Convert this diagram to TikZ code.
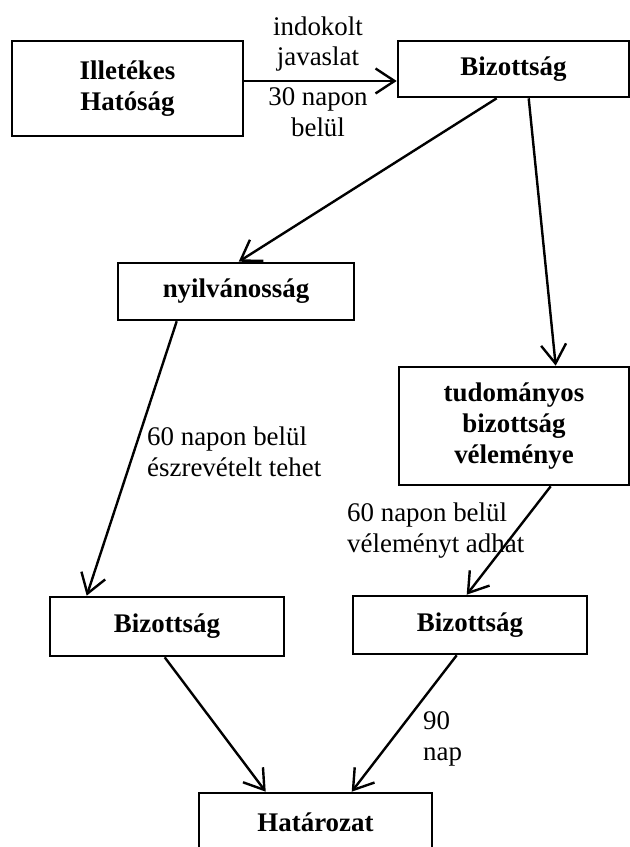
\documentclass[tikz,border=0pt]{standalone}
\usepackage{fontspec}
\setmainfont{Liberation Serif}
\usetikzlibrary{arrows.meta}
\begin{document}
\begin{tikzpicture}[x=1bp,y=1bp,
  box/.style={draw,line width=2.6bp,rectangle,inner sep=0pt,align=center,
    font=\fontsize{27}{31}\selectfont\bfseries},
  lbl/.style={inner sep=0pt,font=\fontsize{27}{31}\selectfont},
  flow/.style={line width=2.4bp,-{Straight Barb[length=19bp,width=25bp,line width=2.4bp]}}]
\useasboundingbox (0,0) rectangle (630,847);
% boxes
\node[box,minimum width=231bp,minimum height=95bp] (hatosag) at (127.5,758.5) {Illetékes\\Hatóság};
\node[box,minimum width=231bp,minimum height=56bp] (biz) at (513.5,778) {Bizottság};
\node[box,minimum width=236bp,minimum height=57bp] (nyil) at (236,555.5) {nyilvánosság};
\node[box,minimum width=230bp,minimum height=118bp] (tud) at (514,421) {tudományos\\bizottság\\véleménye};
\node[box,minimum width=234bp,minimum height=59bp] (bizL) at (167,220.5) {Bizottság};
\node[box,minimum width=234bp,minimum height=58bp] (bizR) at (470,222) {Bizottság};
\node[box,minimum width=233bp,minimum height=58bp] (hat) at (315.5,25) {Határozat};
% labels
\node[lbl,align=center] (l1) at (318,803) {indokolt\\javaslat};
\node[lbl,align=center] (l2) at (318,735) {30 napon\\belül};
\node[lbl,align=left,anchor=west] (l3) at (147,395) {60 napon belül\\észrevételt tehet};
\node[lbl,align=left,anchor=west] (l4) at (347,316) {60 napon belül\\véleményt adhat};
\node[lbl,align=left,anchor=west] (l5) at (423,108) {90\\nap};
% connectors
\draw[flow] ([yshift=7.5bp]hatosag.east) -- ([yshift=7.5bp]hatosag.east -| biz.west);
\draw[flow] ([xshift=100bp]biz.south west) -- ([xshift=122bp]nyil.north west);
\draw[flow] ([xshift=132bp]biz.south west) -- ([xshift=158bp]tud.north west);
\draw[flow] ([xshift=60bp]nyil.south west) -- ([xshift=38bp]bizL.north west);
\draw[flow] ([xshift=153bp]tud.south west) -- ([xshift=115bp]bizR.north west);
\draw[flow] ([xshift=116bp]bizL.south west) -- ([xshift=68bp]hat.north west);
\draw[flow] ([xshift=105bp]bizR.south west) -- ([xshift=154bp]hat.north west);
\end{tikzpicture}
\end{document}
